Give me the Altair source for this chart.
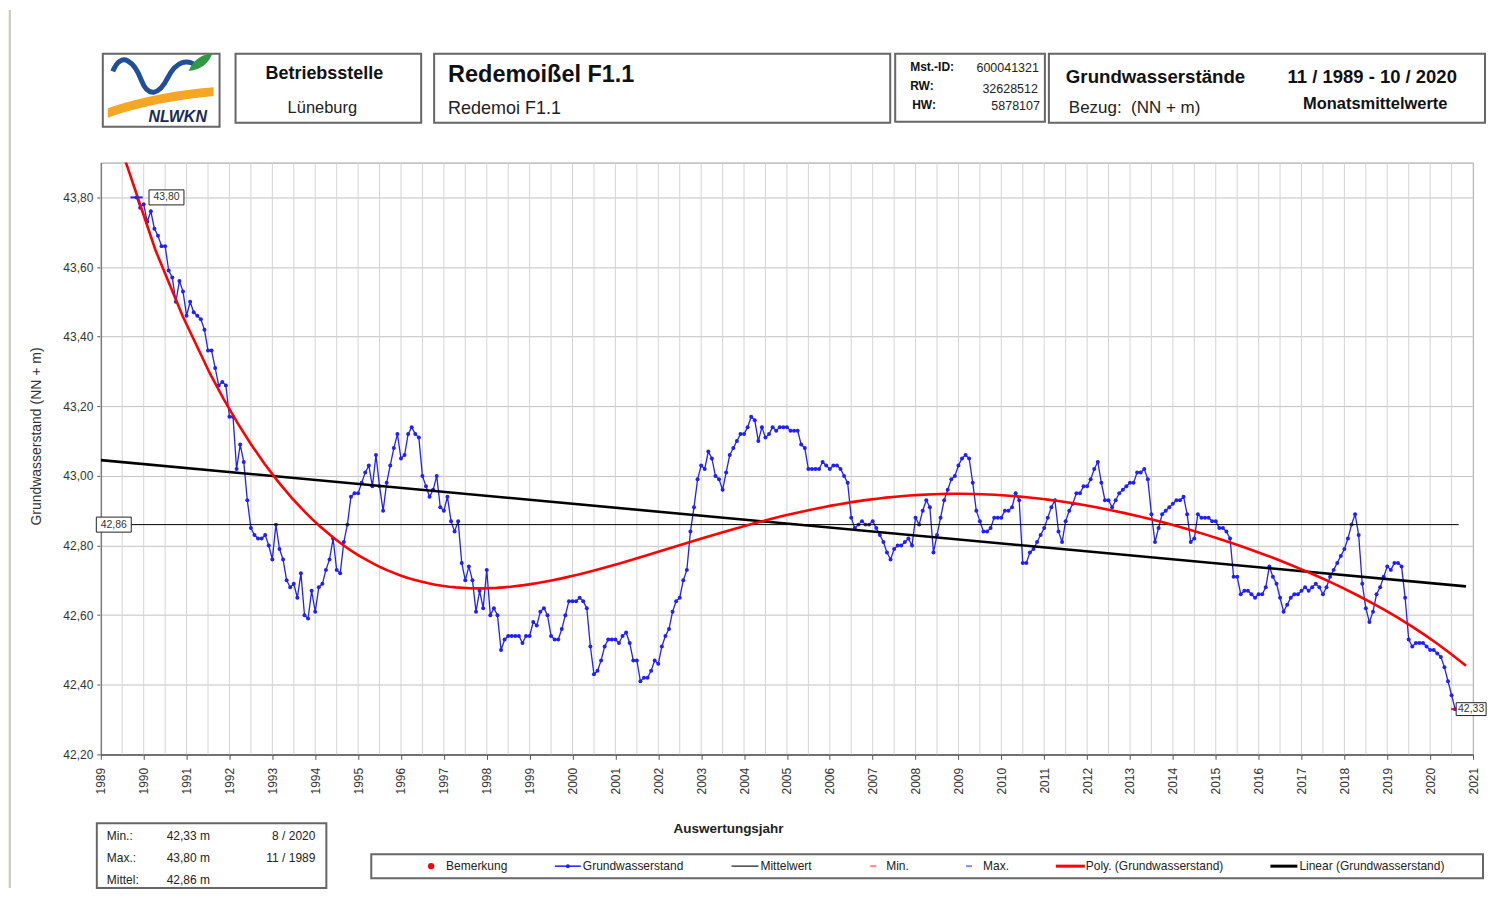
import altair as alt
import pandas as pd

# ---------------- data: monthly mean groundwater levels (NN + m), 11/1989 - 8/2020 ----------------
lv_1989 = [43.80, 43.77]
lv_1990 = [43.78, 43.73, 43.76, 43.71, 43.69, 43.66, 43.66, 43.59, 43.57, 43.50, 43.56, 43.53]
lv_1991 = [43.46, 43.50, 43.47, 43.46, 43.45, 43.42, 43.36, 43.36, 43.31, 43.26, 43.27, 43.26]
lv_1992 = [43.17, 43.17, 43.02, 43.09, 43.04, 42.93, 42.85, 42.83, 42.82, 42.82, 42.83, 42.80]
lv_1993 = [42.76, 42.86, 42.79, 42.76, 42.70, 42.68, 42.69, 42.65, 42.72, 42.60, 42.59, 42.67]
lv_1994 = [42.61, 42.68, 42.69, 42.73, 42.76, 42.82, 42.73, 42.72, 42.81, 42.86, 42.94, 42.95]
lv_1995 = [42.95, 42.98, 43.01, 43.03, 42.97, 43.06, 42.97, 42.90, 42.98, 43.03, 43.08, 43.12]
lv_1996 = [43.05, 43.06, 43.12, 43.14, 43.12, 43.11, 43.00, 42.97, 42.94, 42.96, 43.00, 42.91]
lv_1997 = [42.90, 42.94, 42.87, 42.84, 42.87, 42.75, 42.70, 42.74, 42.70, 42.61, 42.67, 42.62]
lv_1998 = [42.73, 42.60, 42.62, 42.60, 42.50, 42.53, 42.54, 42.54, 42.54, 42.54, 42.52, 42.54]
lv_1999 = [42.54, 42.58, 42.57, 42.61, 42.62, 42.60, 42.54, 42.53, 42.53, 42.56, 42.60, 42.64]
lv_2000 = [42.64, 42.64, 42.65, 42.64, 42.62, 42.51, 42.43, 42.44, 42.47, 42.51, 42.53, 42.53]
lv_2001 = [42.53, 42.52, 42.54, 42.55, 42.52, 42.47, 42.47, 42.41, 42.42, 42.42, 42.44, 42.47]
lv_2002 = [42.46, 42.51, 42.54, 42.56, 42.61, 42.64, 42.65, 42.70, 42.73, 42.84, 42.91, 42.99]
lv_2003 = [43.03, 43.02, 43.07, 43.05, 43.00, 42.99, 42.96, 43.01, 43.06, 43.08, 43.10, 43.12]
lv_2004 = [43.12, 43.14, 43.17, 43.16, 43.10, 43.14, 43.11, 43.12, 43.14, 43.13, 43.14, 43.14]
lv_2005 = [43.14, 43.13, 43.13, 43.13, 43.09, 43.08, 43.02, 43.02, 43.02, 43.02, 43.04, 43.03]
lv_2006 = [43.02, 43.03, 43.03, 43.02, 43.00, 42.98, 42.88, 42.85, 42.86, 42.87, 42.86, 42.86]
lv_2007 = [42.87, 42.85, 42.83, 42.81, 42.78, 42.76, 42.79, 42.80, 42.80, 42.81, 42.82, 42.80]
lv_2008 = [42.88, 42.86, 42.90, 42.93, 42.91, 42.78, 42.83, 42.88, 42.93, 42.96, 42.99, 43.00]
lv_2009 = [43.03, 43.05, 43.06, 43.05, 42.98, 42.90, 42.87, 42.84, 42.84, 42.85, 42.88, 42.88]
lv_2010 = [42.88, 42.90, 42.90, 42.91, 42.95, 42.93, 42.75, 42.75, 42.78, 42.79, 42.81, 42.83]
lv_2011 = [42.85, 42.88, 42.91, 42.93, 42.84, 42.81, 42.87, 42.90, 42.92, 42.95, 42.95, 42.97]
lv_2012 = [42.97, 42.99, 43.02, 43.04, 42.98, 42.93, 42.93, 42.91, 42.93, 42.95, 42.96, 42.97]
lv_2013 = [42.98, 42.98, 43.01, 43.01, 43.02, 42.99, 42.89, 42.81, 42.85, 42.89, 42.90, 42.91]
lv_2014 = [42.92, 42.93, 42.93, 42.94, 42.89, 42.81, 42.82, 42.89, 42.88, 42.88, 42.88, 42.87]
lv_2015 = [42.87, 42.85, 42.85, 42.84, 42.82, 42.71, 42.71, 42.66, 42.67, 42.67, 42.66, 42.65]
lv_2016 = [42.66, 42.66, 42.68, 42.74, 42.71, 42.69, 42.65, 42.61, 42.63, 42.65, 42.66, 42.66]
lv_2017 = [42.67, 42.68, 42.67, 42.68, 42.69, 42.68, 42.66, 42.68, 42.71, 42.73, 42.75, 42.77]
lv_2018 = [42.79, 42.82, 42.86, 42.89, 42.83, 42.69, 42.62, 42.58, 42.61, 42.66, 42.68, 42.71]
lv_2019 = [42.74, 42.73, 42.75, 42.75, 42.74, 42.65, 42.53, 42.51, 42.52, 42.52, 42.52, 42.51]
lv_2020 = [42.50, 42.50, 42.49, 42.48, 42.45, 42.41, 42.37, 42.33]

first_year, first_month = 1989, 11

# statistics box
stat_names = ["Min.:", "Max.:", "Mittel:"]
stat_values = ["42,33 m", "43,80 m", "42,86 m"]
stat_dates = ["8 / 2020", "11 / 1989", ""]
mean_level = 42.86
min_level = 42.33
max_level = 43.80

# axes
year_ticks = list(range(1989, 2022))
half_year_grid = [1989 + 0.5 * i for i in range(65)]
level_ticks = [round(42.2 + 0.2 * i, 2) for i in range(9)]

# legend
legend_names = ["Bemerkung", "Grundwasserstand", "Mittelwert", "Min.", "Max.",
                "Poly. (Grundwasserstand)", "Linear (Grundwasserstand)"]

# ---------------- build table ----------------
levels = (lv_1989 + lv_1990 + lv_1991 + lv_1992 + lv_1993 + lv_1994 + lv_1995 + lv_1996 +
          lv_1997 + lv_1998 + lv_1999 + lv_2000 + lv_2001 + lv_2002 + lv_2003 + lv_2004 +
          lv_2005 + lv_2006 + lv_2007 + lv_2008 + lv_2009 + lv_2010 + lv_2011 + lv_2012 +
          lv_2013 + lv_2014 + lv_2015 + lv_2016 + lv_2017 + lv_2018 + lv_2019 + lv_2020)
times = [first_year + (first_month - 1 + i) / 12 for i in range(len(levels))]
df = pd.DataFrame({"t": times, "v": levels})

t_max = times[levels.index(max_level)]
t_min = times[levels.index(min_level)]
t_end = times[-1] + 1 / 12
trend_extent = [1989.0, t_end + 0.17]

BLUE = "#1f1fff"
RED = "#ff0000"
FONT = "Liberation Sans"
W, H = 1375, 593

xs = alt.Scale(domain=[1989, 2021], nice=False, zero=False)
ys = alt.Scale(domain=[42.2, 43.9], nice=False, zero=False)

x_axis = alt.Axis(values=year_ticks, format="d", labelAngle=270, grid=False, ticks=True,
                  tickSize=5, tickColor="#555", domainColor="#555", domainWidth=1.5,
                  labelFontSize=12, labelColor="#333", labelPadding=8, title=None,
                  labelFlush=False, labelOverlap=False)
y_axis = alt.Axis(values=level_ticks, labelExpr="replace(format(datum.value, '.2f'), '.', ',')",
                  grid=True, gridColor="#c2c2c2", tickSize=4, tickColor="#555",
                  domainColor="#555", domainWidth=1.5, labelFontSize=12, labelColor="#333",
                  labelPadding=4, title="Grundwasserstand (NN + m)", titleFontSize=14,
                  titleFontWeight="normal", titleColor="#333", titlePadding=19, titleY=274)

base = alt.Chart(df)
X0 = alt.X("t:Q", scale=xs, axis=x_axis)
Y0 = alt.Y("v:Q", scale=ys, axis=y_axis)

# half-year vertical grid lines
grid_rules = alt.Chart(pd.DataFrame({"t": half_year_grid})).mark_rule(
    color="#d4d4d4", strokeWidth=1).encode(x=X0)

series_line = base.mark_line(color=BLUE, strokeWidth=1.3).encode(x=X0, y=Y0)
series_pts = base.mark_point(filled=True, size=16, color=BLUE, opacity=1).encode(x=X0, y=Y0)

mean_df = pd.DataFrame({"t": [1989.0], "t2": [t_end], "v": [mean_level]})
mean_rule = alt.Chart(mean_df).mark_rule(color="#000", strokeWidth=1).encode(
    x=X0, x2="t2:Q", y=Y0)

linear = base.transform_regression("t", "v", method="linear", extent=trend_extent).mark_line(
    color="#000", strokeWidth=2.6, clip=True).encode(x=X0, y=Y0)
poly = base.transform_regression("t", "v", method="poly", order=6, extent=trend_extent).mark_line(
    color=RED, strokeWidth=2.6, clip=True).encode(x=X0, y=Y0)

ext_max = alt.Chart(pd.DataFrame({"t": [t_max], "v": [max_level]})).mark_point(
    shape="stroke", size=150, strokeWidth=2, color=BLUE, opacity=1).encode(x=X0, y=Y0)
ext_min = alt.Chart(pd.DataFrame({"t": [t_min], "v": [min_level]})).mark_point(
    shape="stroke", size=64, strokeWidth=2, color=RED, opacity=1).encode(x=X0, y=Y0)

BOXPATH = "M-1,-0.43L1,-0.43L1,0.43L-1,0.43Z"


def value_label(t, v, s, dx, w=35):
    d = pd.DataFrame({"t": [t], "v": [v], "s": [s]})
    c = alt.Chart(d)
    b = c.mark_point(shape=BOXPATH, size=w * w, filled=True, fill="white", stroke="#222",
                     strokeWidth=1, opacity=1, xOffset=dx).encode(x=X0, y=Y0)
    tx = c.mark_text(dx=dx, fontSize=10.5, color="#333").encode(x=X0, y=Y0, text="s:N")
    return [b, tx]


labels = (value_label(t_max, max_level, "43,80", 30) +
          value_label(1989.0, mean_level, "42,86", 13) +
          value_label(t_min, min_level, "42,33", 16, w=30))

# ---------------- decoration (pixel positions relative to the plot origin) ----------------
one = alt.Data(values=[{"k": 0}])


def box(x1, y1, x2, y2, stroke="#666", sw=2, fill="white", opacity=1):
    return alt.Chart(one).mark_rect(fill=fill, stroke=stroke, strokeWidth=sw, opacity=opacity).encode(
        x=alt.value(x1), x2=alt.value(x2), y=alt.value(y1), y2=alt.value(y2))


def txt(s, x, y, size=12, weight="normal", align="left", color="#111", style="normal"):
    return alt.Chart(one).mark_text(text=s, fontSize=size, fontWeight=weight, align=align,
                                    baseline="middle", color=color, fontStyle=style).encode(
        x=alt.value(x), y=alt.value(y))


def seg(x1, x2, y, color, sw):
    return alt.Chart(one).mark_rule(color=color, strokeWidth=sw).encode(
        x=alt.value(x1), x2=alt.value(x2), y=alt.value(y))


def vseg(x, y1, y2, color, sw):
    return alt.Chart(one).mark_rule(color=color, strokeWidth=sw).encode(
        x=alt.value(x), y=alt.value(y1), y2=alt.value(y2))


def symbol(shape, x, y, size, color, filled=True, sw=1):
    if filled:
        m = alt.Chart(one).mark_point(shape=shape, size=size, filled=True, color=color, opacity=1,
                                      strokeWidth=0)
    else:
        m = alt.Chart(one).mark_point(shape=shape, size=size, filled=False, color=color, opacity=1,
                                      strokeWidth=sw)
    return m.encode(x=alt.value(x), y=alt.value(y))


deco = []
deco.append(box(-93, -153, 1388, 727, opacity=0))          # canvas extent
deco.append(box(-93, -153, -91, 727, stroke="#eef5e2", sw=0, fill="#eef5e2"))
deco.append(vseg(-91, -153, 727, "#a0a0a0", 1))
# header boxes
deco += [box(2, -109, 119, -36), box(135, -109, 321, -40), box(334, -109, 791, -40),
         box(796, -109, 946, -41), box(950, -109, 1387, -40)]
# logo
SWOOSH = "M-1,0.2 C-0.4,-0.02 0.3,-0.14 1,-0.2 L1,-0.03 C0.3,0.04 -0.4,0.16 -1,0.38 Z"
WAVE = "M-1,-0.1 C-0.8,-0.6 -0.5,-0.3 -0.35,0.1 C-0.2,0.5 0.05,0.45 0.25,0.05 C0.45,-0.35 0.7,-0.4 0.95,-0.2"
LEAF = "M-1,0.6 C-0.6,-0.4 0.2,-0.8 1,-0.9 C0.7,-0.1 0.1,0.5 -1,0.6 Z"
deco += [symbol(SWOOSH, 60, -65, 106 * 106, "#f5a623"),
         symbol(WAVE, 56, -87, 88 * 88, "#1f4f96", filled=False, sw=5),
         symbol(LEAF, 100, -99, 24 * 24, "#2e9a48"),
         txt("NLWKN", 77, -46, size=16, weight="bold", align="center", color="#1b2a55", style="italic")]
# header texts
deco += [txt("Betriebsstelle", 224, -89, 18, "bold", "center"),
         txt("Lüneburg", 222, -55, 16.5, "normal", "center", "#222"),
         txt("Redemoißel F1.1", 348, -88, 23.5, "bold"),
         txt("Redemoi F1.1", 348, -54, 18, "normal", "left", "#222"),
         txt("Mst.-ID:", 811, -96, 12, "bold"),
         txt("RW:", 811, -77, 12, "bold"),
         txt("HW:", 813, -58, 12, "bold"),
         txt("600041321", 940, -95, 12.5, "normal", "right", "#222"),
         txt("32628512", 939, -74, 12.5, "normal", "right", "#222"),
         txt("5878107", 941, -57, 12.5, "normal", "right", "#222"),
         txt("Grundwasserstände", 967, -86, 18.7, "bold"),
         txt("Bezug:\u00a0\u00a0(NN + m)", 970, -55, 17, "normal", "left", "#222"),
         txt("11 / 1989 - 10 / 2020", 1274, -86, 18.5, "bold", "center"),
         txt("Monatsmittelwerte", 1277, -59, 16.5, "bold", "center")]
# x axis title
deco.append(txt("Auswertungsjahr", 629, 668, 13.5, "bold", "center", "#222"))
# statistics box
deco.append(box(-4, 662, 226, 727, stroke="#666", sw=2))
for i, (n, v, d) in enumerate(zip(stat_names, stat_values, stat_dates)):
    yy = 675 + 22 * i
    deco += [txt(n, 6, yy, 12, color="#222"), txt(v, 66, yy, 12, color="#222"),
             txt(d, 215, yy, 12, align="right", color="#222")]
# legend box
LY = 705
deco.append(box(271, 693, 1385, 717, stroke="#666", sw=2))
deco += [symbol("circle", 331, LY, 40, RED), txt(legend_names[0], 346, LY, 12, color="#222"),
         seg(455, 481, LY, BLUE, 1.5), symbol("circle", 468, LY, 16, BLUE),
         txt(legend_names[1], 483, LY, 12, color="#222"),
         seg(632, 659, LY, "#444", 1.5), txt(legend_names[2], 661, LY, 12, color="#222"),
         seg(771, 777, LY, "#f08a8a", 2), txt(legend_names[3], 787, LY, 12, color="#222"),
         seg(867, 873, LY, "#8a8af0", 2), txt(legend_names[4], 884, LY, 12, color="#222"),
         seg(957, 986, LY, RED, 3), txt(legend_names[5], 987, LY, 12, color="#222"),
         seg(1172, 1199, LY, "#000", 3), txt(legend_names[6], 1201, LY, 12, color="#222")]

layers = deco + [grid_rules, series_line, series_pts, mean_rule, linear, poly,
                 ext_max, ext_min] + labels

chart = alt.layer(*layers).properties(
    width=W, height=H, padding=0
).configure(font=FONT, background="white").configure_view(stroke="#999", strokeWidth=1)

chart.save("out.html", embed_options={"renderer": "svg", "actions": False})
